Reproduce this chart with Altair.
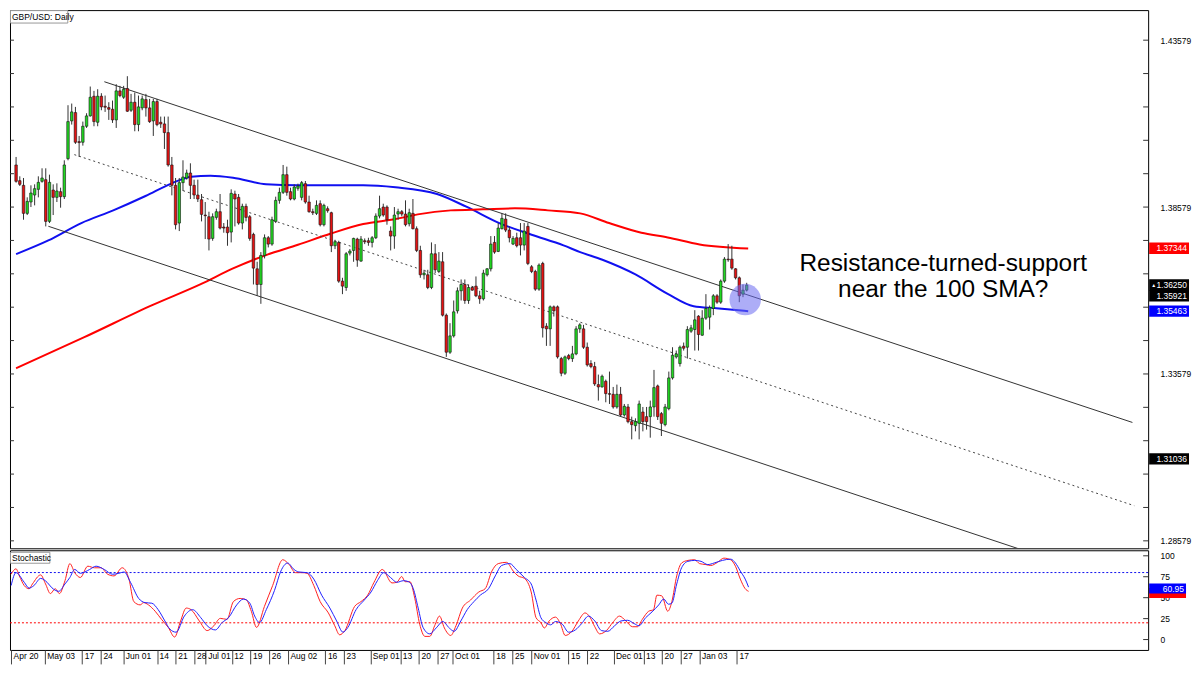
import json
import altair as alt
import pandas as pd

# ---------------- data ----------------
opens = [1.3984,1.3937,1.3923,1.3839,1.3873,1.3894,1.3911,1.3935,1.3940,1.3815,
         1.3909,1.3887,1.3904,1.3889,1.4003,1.4116,1.4141,1.4054,1.4052,1.4100,
         1.4131,1.4190,1.4112,1.4190,1.4160,1.4156,1.4151,1.4119,1.4206,1.4187,
         1.4213,1.4148,1.4172,1.4105,1.4155,1.4180,1.4155,1.4116,1.4174,1.4112,
         1.4107,1.4081,1.3984,1.3923,1.3810,1.3931,1.3945,1.3960,1.3923,1.3894,
         1.3880,1.3834,1.3829,1.3764,1.3827,1.3844,1.3798,1.3798,1.3783,1.3897,
         1.3887,1.3810,1.3860,1.3829,1.3776,1.3673,1.3626,1.3713,1.3766,1.3747,
         1.3815,1.3878,1.3902,1.3955,1.3904,1.3882,1.3914,1.3887,1.3928,1.3873,
         1.3844,1.3839,1.3868,1.3805,1.3853,1.3841,1.3742,1.3752,1.3636,1.3617,
         1.3720,1.3728,1.3762,1.3696,1.3757,1.3757,1.3752,1.3766,1.3831,1.3858,
         1.3858,1.3786,1.3771,1.3837,1.3844,1.3837,1.3808,1.3839,1.3793,1.3728,
         1.3655,1.3655,1.3617,1.3718,1.3665,1.3694,1.3534,1.3423,1.3472,1.3547,
         1.3607,1.3626,1.3578,1.3617,1.3621,1.3592,1.3583,1.3655,1.3673,1.3752,
         1.3725,1.3793,1.3822,1.3789,1.3747,1.3766,1.3766,1.3744,1.3800,1.3679,
         1.3665,1.3612,1.3689,1.3501,1.3493,1.3559,1.3559,1.3404,1.3360,1.3413,
         1.3404,1.3418,1.3493,1.3493,1.3438,1.3389,1.3380,1.3326,1.3319,1.3336,
         1.3299,1.3297,1.3259,1.3297,1.3235,1.3259,1.3215,1.3203,1.3210,1.3244,
         1.3230,1.3230,1.3259,1.3322,1.3239,1.3206,1.3254,1.3346,1.3409,1.3389,
         1.3441,1.3438,1.3486,1.3491,1.3531,1.3474,1.3525,1.3528,1.3554,1.3592,
         1.3573,1.3636,1.3702,1.3702,1.3673,1.3646,1.3597,1.3609]
highs = [1.4008,1.3950,1.3945,1.3887,1.3923,1.3926,1.3950,1.3974,1.3974,1.3955,
         1.3926,1.3929,1.3916,1.3998,1.4163,1.4168,1.4158,1.4071,1.4114,1.4139,
         1.4219,1.4206,1.4211,1.4199,1.4192,1.4172,1.4177,1.4226,1.4221,1.4221,
         1.4250,1.4197,1.4201,1.4192,1.4192,1.4197,1.4182,1.4182,1.4182,1.4129,
         1.4129,1.4129,1.4008,1.3945,1.3945,1.3998,1.3970,1.3989,1.3940,1.3940,
         1.3897,1.3873,1.3844,1.3839,1.3853,1.3897,1.3810,1.3820,1.3911,1.3907,
         1.3897,1.3868,1.3868,1.3834,1.3781,1.3694,1.3723,1.3776,1.3771,1.3829,
         1.3889,1.3916,1.3984,1.3979,1.3916,1.3926,1.3928,1.3936,1.3936,1.3892,
         1.3853,1.3878,1.3878,1.3868,1.3860,1.3844,1.3760,1.3757,1.3646,1.3723,
         1.3732,1.3766,1.3766,1.3771,1.3764,1.3766,1.3771,1.3839,1.3892,1.3868,
         1.3863,1.3800,1.3858,1.3853,1.3849,1.3878,1.3853,1.3882,1.3800,1.3742,
         1.3670,1.3670,1.3752,1.3747,1.3723,1.3723,1.3539,1.3510,1.3578,1.3617,
         1.3641,1.3641,1.3626,1.3621,1.3650,1.3607,1.3670,1.3675,1.3771,1.3771,
         1.3810,1.3839,1.3839,1.3800,1.3771,1.3781,1.3810,1.3810,1.3810,1.3684,
         1.3670,1.3689,1.3694,1.3510,1.3563,1.3563,1.3563,1.3409,1.3413,1.3418,
         1.3442,1.3501,1.3510,1.3505,1.3452,1.3399,1.3394,1.3356,1.3356,1.3341,
         1.3365,1.3319,1.3326,1.3319,1.3268,1.3268,1.3230,1.3225,1.3278,1.3259,
         1.3259,1.3278,1.3370,1.3326,1.3244,1.3268,1.3365,1.3438,1.3428,1.3443,
         1.3452,1.3501,1.3505,1.3549,1.3534,1.3549,1.3597,1.3563,1.3597,1.3597,
         1.3641,1.3708,1.3747,1.3742,1.3675,1.3650,1.3626,1.3631]
lows = [1.3931,1.3921,1.3820,1.3834,1.3858,1.3863,1.3887,1.3931,1.3800,1.3810,
        1.3834,1.3873,1.3856,1.3882,1.3998,1.4105,1.4047,1.4008,1.4042,1.4095,
        1.4129,1.4100,1.4100,1.4148,1.4143,1.4119,1.4110,1.4095,1.4187,1.4182,
        1.4143,1.4143,1.4085,1.4085,1.4148,1.4129,1.4110,1.4071,1.4100,1.4095,
        1.4032,1.3979,1.3893,1.3791,1.3786,1.3906,1.3940,1.3882,1.3882,1.3873,
        1.3815,1.3762,1.3728,1.3757,1.3820,1.3791,1.3781,1.3742,1.3752,1.3800,
        1.3805,1.3791,1.3815,1.3757,1.3626,1.3592,1.3568,1.3704,1.3737,1.3742,
        1.3810,1.3868,1.3897,1.3892,1.3878,1.3878,1.3907,1.3878,1.3868,1.3841,
        1.3834,1.3834,1.3800,1.3800,1.3841,1.3723,1.3732,1.3631,1.3597,1.3607,
        1.3713,1.3694,1.3679,1.3694,1.3747,1.3742,1.3737,1.3762,1.3824,1.3829,
        1.3805,1.3728,1.3733,1.3820,1.3830,1.3800,1.3800,1.3791,1.3723,1.3646,
        1.3641,1.3612,1.3612,1.3660,1.3660,1.3530,1.3409,1.3418,1.3467,1.3539,
        1.3578,1.3568,1.3568,1.3607,1.3588,1.3568,1.3578,1.3650,1.3665,1.3718,
        1.3723,1.3791,1.3783,1.3752,1.3744,1.3737,1.3713,1.3728,1.3684,1.3660,
        1.3607,1.3607,1.3467,1.3442,1.3442,1.3530,1.3404,1.3351,1.3355,1.3399,
        1.3394,1.3414,1.3481,1.3433,1.3380,1.3375,1.3322,1.3278,1.3317,1.3273,
        1.3268,1.3254,1.3254,1.3230,1.3230,1.3210,1.3162,1.3186,1.3162,1.3186,
        1.3191,1.3167,1.3230,1.3220,1.3172,1.3201,1.3249,1.3341,1.3404,1.3380,
        1.3428,1.3404,1.3481,1.3428,1.3428,1.3472,1.3520,1.3491,1.3534,1.3568,
        1.3568,1.3631,1.3694,1.3670,1.3641,1.3573,1.3588,1.3605]
closes = [1.3935,1.3926,1.3839,1.3875,1.3900,1.3913,1.3932,1.3945,1.3815,1.3932,
          1.3887,1.3906,1.3889,1.3984,1.4114,1.4143,1.4052,1.4051,1.4100,1.4131,
          1.4187,1.4114,1.4190,1.4158,1.4157,1.4151,1.4119,1.4206,1.4192,1.4211,
          1.4145,1.4172,1.4105,1.4158,1.4182,1.4155,1.4114,1.4174,1.4105,1.4107,
          1.4081,1.3984,1.3923,1.3805,1.3931,1.3948,1.3960,1.3923,1.3894,1.3882,
          1.3836,1.3832,1.3762,1.3829,1.3844,1.3795,1.3795,1.3781,1.3899,1.3882,
          1.3810,1.3860,1.3827,1.3764,1.3675,1.3626,1.3713,1.3766,1.3747,1.3820,
          1.3878,1.3902,1.3955,1.3902,1.3882,1.3918,1.3921,1.3931,1.3873,1.3844,
          1.3841,1.3863,1.3805,1.3863,1.3847,1.3742,1.3754,1.3636,1.3621,1.3718,
          1.3726,1.3764,1.3699,1.3762,1.3754,1.3752,1.3766,1.3831,1.3853,1.3834,
          1.3820,1.3771,1.3834,1.3844,1.3837,1.3805,1.3841,1.3793,1.3728,1.3655,
          1.3660,1.3617,1.3718,1.3670,1.3696,1.3534,1.3423,1.3472,1.3544,1.3607,
          1.3626,1.3578,1.3617,1.3609,1.3592,1.3583,1.3660,1.3673,1.3747,1.3723,
          1.3795,1.3824,1.3789,1.3766,1.3764,1.3742,1.3744,1.3786,1.3689,1.3665,
          1.3612,1.3684,1.3496,1.3493,1.3559,1.3547,1.3409,1.3360,1.3409,1.3404,
          1.3418,1.3493,1.3505,1.3438,1.3385,1.3380,1.3328,1.3319,1.3351,1.3299,
          1.3297,1.3259,1.3297,1.3235,1.3261,1.3215,1.3206,1.3215,1.3268,1.3215,
          1.3215,1.3259,1.3317,1.3230,1.3210,1.3259,1.3346,1.3414,1.3418,1.3438,
          1.3435,1.3491,1.3496,1.3520,1.3476,1.3525,1.3554,1.3557,1.3592,1.3573,
          1.3636,1.3702,1.3700,1.3675,1.3646,1.3592,1.3609,1.3624]

# moving averages, read at sample bars
sma100_idx = [0, 8.7, 17.6, 26.2, 34.9, 42.0, 47.2, 52.4, 58.5, 67.4, 76.0, 84.7, 93.6,
              102.3, 113.5, 121.4, 130.3, 139.0, 147.6, 152.1, 158.1, 167.0, 175.7,
              182.7, 188.8, 197.4]
sma100_val = [1.3717, 1.3758, 1.3810, 1.3848, 1.3891, 1.3929, 1.3949, 1.3952, 1.3946,
              1.3926, 1.3923, 1.3923, 1.3923, 1.3917, 1.3897, 1.3859, 1.3810, 1.3775,
              1.3743, 1.3723, 1.3700, 1.3656, 1.3598, 1.3561, 1.3555, 1.3546]
sma200_idx = [0, 18.4, 36.7, 49.8, 58.5, 67.4, 76.0, 84.7, 93.6, 102.3, 108.3, 117.2,
              125.9, 134.5, 143.4, 152.1, 159.9, 168.6, 175.7, 184.3, 197.4]
sma200_val = [1.3375, 1.3468, 1.3564, 1.3627, 1.3674, 1.3714, 1.3745, 1.3778, 1.3807,
              1.3822, 1.3836, 1.3848, 1.3851, 1.3854, 1.3848, 1.3839, 1.3810, 1.3781,
              1.3767, 1.3746, 1.3734]

# channel (bar index, price) end points
chan_upper_idx = [23.8, 301.0]
chan_upper_val = [1.42334, 1.32126]
chan_mid_idx = [15.7, 301.5]
chan_mid_val = [1.40150, 1.29632]
chan_lower_idx = [8.7, 303.9]
chan_lower_val = [1.38004, 1.27101]

# stochastic (%K red, %D blue)
stoch_k_idx = [0, 1.3, 2.2, 3.5, 4.8, 5.7, 7.9, 9.2, 10.5, 11.8, 12.9, 14.4, 15.7, 17.0,
               18.5, 20.5, 22.3, 24.0, 25.8, 27.5, 29.7, 31.5, 32.8, 34.5, 35.4, 36.7,
               38.5, 40.2, 42.0, 43.7, 45.3, 46.8, 48.1, 50.3, 52.4, 54.2, 55.9, 57.7,
               59.4, 61.2, 62.9, 64.2, 65.6, 67.7, 69.9, 72.6, 74.3, 76.0, 77.8, 79.1,
               80.9, 82.6, 84.8, 86.5, 87.8, 89.2, 91.8, 93.5, 95.3, 97.0, 99.2, 101.8,
               103.1, 104.4, 105.3, 106.6, 107.9, 109.2, 110.6, 111.9, 113.2, 114.5,
               115.8, 117.5, 118.9, 120.6, 122.8, 125.0, 126.7, 128.5, 130.2, 132.4,
               134.2, 135.5, 137.2, 139.0, 140.3, 141.6, 142.5, 143.8, 145.5, 146.8,
               148.1, 149.9, 151.6, 153.4, 154.7, 156.0, 157.3, 159.1, 160.8, 162.6,
               164.3, 166.1, 167.4, 168.7, 170.4, 171.7, 172.6, 173.9, 175.5, 176.6,
               177.9, 179.2, 180.9, 182.7, 184.0, 185.7, 187.0, 188.8, 190.5, 192.3,
               193.6, 194.9, 196.2, 197.1]
stoch_k_val = [78.0, 84.5, 76.0, 64.5, 60.7, 66.4, 77.2, 66.4, 54.9, 60.7, 54.9, 70.3,
               90.7, 79.9, 74.1, 87.6, 85.7, 85.7, 78.0, 76.0, 85.7, 72.2, 45.3, 41.4,
               44.1, 41.4, 33.8, 24.1, 14.5, 3.0, 22.2, 37.6, 35.7, 22.2, 10.7, 16.5,
               25.3, 24.1, 45.3, 49.1, 47.2, 33.8, 14.5, 39.5, 64.5, 95.3, 89.5, 79.9,
               79.9, 79.1, 64.5, 45.3, 31.8, 16.5, 5.7, 10.7, 39.5, 45.3, 53.0, 68.4,
               83.7, 67.6, 68.4, 75.3, 69.1, 69.1, 49.1, 18.4, 3.8, 3.8, 16.5, 28.0,
               13.8, 4.9, 16.5, 37.6, 47.2, 56.8, 60.7, 81.8, 90.7, 92.2, 81.8, 76.0,
               73.0, 56.8, 26.1, 20.3, 13.8, 22.2, 26.8, 19.1, 4.9, 9.9, 22.2, 31.8,
               26.8, 15.3, 6.8, 10.7, 20.3, 28.0, 22.2, 15.3, 15.3, 24.1, 33.8, 35.7,
               53.0, 52.2, 33.8, 45.3, 76.0, 91.4, 94.5, 95.3, 90.7, 89.5, 88.4, 92.2,
               97.2, 95.3, 87.6, 72.2, 60.7, 57.6]
stoch_d_idx = [0, 1.3, 3.5, 4.8, 6.1, 7.9, 9.6, 10.9, 12.7, 14.4, 15.7, 17.0, 18.5, 21.0,
               22.7, 24.9, 27.1, 28.8, 30.2, 31.9, 34.1, 35.8, 37.6, 39.3, 41.1, 42.4,
               44.1, 46.3, 48.5, 50.7, 52.4, 54.6, 56.4, 58.1, 60.3, 62.1, 63.8, 65.1,
               66.4, 68.2, 70.4, 72.1, 73.9, 75.6, 76.9, 79.1, 80.9, 83.0, 85.2, 87.0,
               88.7, 90.0, 92.2, 94.4, 96.2, 97.9, 99.6, 101.4, 103.1, 104.9, 106.2,
               107.5, 108.8, 110.1, 111.9, 113.6, 115.4, 117.1, 118.4, 120.2, 121.9,
               123.7, 125.4, 127.6, 129.4, 131.1, 133.3, 135.0, 137.2, 139.0, 140.3,
               141.6, 142.9, 144.2, 145.5, 147.3, 149.0, 150.8, 152.5, 154.3, 156.0,
               157.8, 159.5, 161.3, 163.0, 164.8, 166.5, 167.8, 169.6, 171.3, 173.1,
               174.4, 175.7, 176.6, 177.9, 179.2, 180.9, 182.7, 184.4, 186.2, 187.9,
               190.1, 192.3, 193.6, 194.9, 196.2, 197.1]
stoch_d_val = [64.5, 79.9, 68.4, 61.4, 64.5, 73.0, 68.4, 61.8, 57.6, 66.4, 74.1, 83.7,
               79.1, 83.7, 87.6, 83.7, 78.0, 79.1, 80.7, 68.4, 49.1, 44.1, 43.4, 35.7,
               22.2, 12.6, 8.8, 28.0, 35.7, 26.1, 16.5, 11.5, 20.3, 26.1, 41.4, 48.4,
               43.4, 28.0, 20.3, 35.7, 58.7, 81.8, 91.4, 83.7, 80.7, 79.9, 72.2, 53.0,
               37.6, 22.2, 8.8, 14.5, 35.7, 47.2, 56.8, 70.3, 79.9, 74.1, 68.4, 70.3,
               69.1, 60.7, 37.6, 14.5, 6.8, 13.8, 21.5, 13.8, 9.9, 22.2, 35.7, 45.3,
               53.0, 60.7, 76.0, 88.4, 90.7, 83.7, 74.1, 66.4, 47.2, 26.1, 20.3, 17.6,
               21.5, 18.4, 8.8, 11.5, 19.1, 28.0, 22.2, 10.7, 9.9, 16.5, 22.2, 23.0,
               19.1, 16.5, 26.1, 33.0, 41.4, 48.4, 42.2, 43.4, 66.4, 85.7, 93.4, 94.5,
               93.4, 89.5, 91.4, 94.5, 96.0, 91.4, 81.8, 72.2, 62.6]
stoch_levels = [80, 20]

# axis text
tick_idx = [0, 9, 19, 24, 30, 39, 44, 49, 52, 59, 64, 69, 74, 84, 89, 96, 104, 109, 114,
            118, 129, 134, 139, 149, 154, 161, 169, 174, 179, 184, 194]
tick_lbl = ["Apr 20", "May 03", "17", "24", "Jun 01", "14", "21", "28", "Jul 01", "12",
            "19", "26", "Aug 02", "16", "23", "Sep 01", "13", "20", "27", "Oct 01", "18",
            "25", "Nov 01", "15", "22", "Dec 01", "13", "20", "27", "Jan 03", "17"]
price_labels = [1.28579, 1.33579, 1.38579, 1.43579]
price_minor = [1.28579, 1.29579, 1.30579, 1.31579, 1.32579, 1.33579, 1.34579, 1.35579,
               1.36579, 1.37579, 1.38579, 1.39579, 1.40579, 1.41579, 1.42579, 1.43579]
stoch_labels = [0, 25, 50, 75, 100]

price_tags = [1.37344, 1.36250, 1.35921, 1.35463, 1.31036]
price_tag_kind = ["sma200", "price", "price", "sma100", "level"]
stoch_k_tag = [55.5]
stoch_d_tag = [60.95]

note_lines = ["Resistance-turned-support", "near the 100 SMA?"]
note_idx = [250.0, 250.0]
note_val = [1.3667, 1.3589]
circle_idx = [196.6]
circle_val = [1.35809]

# ---------------- layout ----------------
W = 1142
H1 = 540
H2 = 100
FONT = "Liberation Sans"
X_DOMAIN = [-0.3, 303.9]
P_DOMAIN = [1.28356, 1.4448]
S_DOMAIN = [-12.4, 106.6]
GREEN = "#22d822"
RED = "#e51212"
TAG_COLORS = {"sma200": "#ff0000", "price": "#000000", "sma100": "#0000ff",
              "level": "#000000"}

xs = alt.Scale(domain=X_DOMAIN, nice=False, zero=False)
ps = alt.Scale(domain=P_DOMAIN, nice=False, zero=False)
ss = alt.Scale(domain=S_DOMAIN, nice=False, zero=False)

price_axis = alt.Axis(orient="right", values=price_labels, format=".5f", ticks=False,
                      tickSize=0, domain=False, grid=False, labelPadding=12,
                      labelFont=FONT, labelFontSize=8.5, labelColor="#000", title=None)
xaxis_main = alt.Axis(values=tick_idx, labels=False, ticks=False, domain=False,
                      grid=False, title=None)


def PX(field):
    return alt.X(field, scale=xs, axis=None, title=None)


def PY(field):
    return alt.Y(field, scale=ps, axis=price_axis, title=None)


candles = pd.DataFrame({"i": list(range(len(opens))), "o": opens, "h": highs,
                        "l": lows, "c": closes})

wicks = alt.Chart(candles).mark_rule(color="#333", strokeWidth=1).encode(
    x=PX("i:Q"), y=PY("l:Q"), y2="h:Q")
bodies = alt.Chart(candles).mark_bar(size=2.5, stroke="#111", strokeWidth=0.6).encode(
    x=PX("i:Q"), y=PY("o:Q"), y2="c:Q",
    fill=alt.condition("datum.c >= datum.o", alt.value(GREEN), alt.value(RED)))

sma_df = pd.concat([
    pd.DataFrame({"i": sma100_idx, "p": sma100_val, "s": "100"}),
    pd.DataFrame({"i": sma200_idx, "p": sma200_val, "s": "200"})])
smas = alt.Chart(sma_df).mark_line(strokeWidth=2, interpolate="monotone").encode(
    x=PX("i:Q"), y=PY("p:Q"),
    color=alt.Color("s:N", scale=alt.Scale(domain=["100", "200"],
                                           range=["#1010f0", "#ff0000"]), legend=None))

chan_df = pd.concat([
    pd.DataFrame({"i": chan_upper_idx, "p": chan_upper_val, "n": "upper"}),
    pd.DataFrame({"i": chan_lower_idx, "p": chan_lower_val, "n": "lower"})])
chan = alt.Chart(chan_df).mark_line(color="#333", strokeWidth=1, clip=True).encode(
    x=PX("i:Q"), y=PY("p:Q"), detail="n:N")
mid_df = pd.DataFrame({"i": chan_mid_idx, "p": chan_mid_val})
mid = alt.Chart(mid_df).mark_line(color="#444", strokeWidth=1, strokeDash=[2, 3],
                                  clip=True).encode(x=PX("i:Q"), y=PY("p:Q"))

circ = alt.Chart(pd.DataFrame({"i": circle_idx, "p": circle_val})).mark_circle(
    size=1000, color="#6a6af0", opacity=0.55).encode(x=PX("i:Q"), y=PY("p:Q"))

note = alt.Chart(pd.DataFrame({"i": note_idx, "p": note_val, "t": note_lines})).mark_text(
    font=FONT, fontSize=24.5, align="center", baseline="alphabetic", color="#000").encode(
    x=PX("i:Q"), y=PY("p:Q"), text="t:N")

tick_df = pd.DataFrame({"p": price_minor})
lticks = alt.Chart(tick_df).mark_rule(color="#333", strokeWidth=1).encode(
    x=alt.value(0), x2=alt.value(4), y=PY("p:Q"))
rticks = alt.Chart(tick_df).mark_rule(color="#333", strokeWidth=1).encode(
    x=alt.value(W - 5), x2=alt.value(W), y=PY("p:Q"))

tag_df = pd.DataFrame({"p": price_tags, "k": price_tag_kind,
                       "lbl": [f"{v:.5f}" for v in price_tags]})
tag_df["col"] = tag_df["k"].map(TAG_COLORS)
tag_box = alt.Chart(tag_df).transform_calculate(
    top="datum.p + 0.0017", bot="datum.p - 0.0017").mark_rect().encode(
    x=alt.value(W + 1), x2=alt.value(W + 41), y=PY("top:Q"), y2="bot:Q",
    fill=alt.Fill("col:N", scale=None))
tag_txt = alt.Chart(tag_df).mark_text(font=FONT, fontSize=8.5, align="right",
                                      baseline="middle", color="white").encode(
    x=alt.value(W + 39), y=PY("p:Q"), text="lbl:N")
arrow = alt.Chart(pd.DataFrame({"p": [price_tags[1]]})).mark_text(
    text="\u25b2", fontSize=5, color="white", align="left", baseline="middle").encode(
    x=alt.value(W + 3), y=PY("p:Q"))

title_df = pd.DataFrame({"t": ["GBP/USD: Daily"]})
title_box = alt.Chart(title_df).mark_rect(fill="white", stroke="#999", strokeWidth=1).encode(
    x=alt.value(0.5), x2=alt.value(58), y=alt.value(0.5), y2=alt.value(13))
title_txt = alt.Chart(title_df).mark_text(font=FONT, fontSize=8.5, align="left",
                                          baseline="middle", color="#000").encode(
    x=alt.value(2), y=alt.value(7), text="t:N")

main = alt.layer(lticks, rticks, smas, chan, mid, wicks, bodies, circ, note,
                 title_box, title_txt, tag_box, tag_txt, arrow).properties(
    width=W, height=H1)

# ---------------- stochastic panel ----------------
xaxis = alt.Axis(values=tick_idx,
                 labelExpr=f"{json.dumps(tick_lbl)}[indexof({json.dumps(tick_idx)}, datum.value)]",
                 tickSize=14, tickColor="#444", tickWidth=1, domain=False, grid=False,
                 labelAlign="left", labelBaseline="top", labelPadding=-12, labelOffset=2,
                 labelFont=FONT, labelFontSize=8.5, labelColor="#000",
                 labelOverlap=False, labelFlush=False, title=None)
stoch_axis = alt.Axis(orient="right", values=stoch_labels, ticks=False, tickSize=0,
                      domain=False, grid=False, labelPadding=12, labelFont=FONT,
                      labelFontSize=8.5, labelColor="#000", title=None)


def SX(field):
    return alt.X(field, scale=xs, axis=xaxis, title=None)


def SY(field):
    return alt.Y(field, scale=ss, axis=stoch_axis, title=None)


lvl_df = pd.DataFrame({"v": stoch_levels, "n": ["hi", "lo"]})
levels = alt.Chart(lvl_df).mark_rule(strokeWidth=1, strokeDash=[2, 2]).encode(
    y=SY("v:Q"),
    color=alt.Color("n:N", scale=alt.Scale(domain=["hi", "lo"],
                                           range=["#3030ff", "#ff3030"]), legend=None))

k_df = pd.DataFrame({"i": stoch_k_idx, "v": stoch_k_val})
d_df = pd.DataFrame({"i": stoch_d_idx, "v": stoch_d_val})
k_line = alt.Chart(k_df).mark_line(color="#ff2020", strokeWidth=1,
                                   interpolate="monotone").encode(x=SX("i:Q"), y=SY("v:Q"))
d_line = alt.Chart(d_df).mark_line(color="#2020ff", strokeWidth=1,
                                   interpolate="monotone").encode(x=SX("i:Q"), y=SY("v:Q"))

sticks = alt.Chart(pd.DataFrame({"v": stoch_labels})).mark_rule(color="#333").encode(
    x=alt.value(W - 5), x2=alt.value(W), y=SY("v:Q"))

k_box = alt.Chart(pd.DataFrame({"v": stoch_k_tag})).transform_calculate(
    top="datum.v + 6", bot="datum.v - 6").mark_rect(color="#ff0000").encode(
    x=alt.value(W + 1), x2=alt.value(W + 38), y=SY("top:Q"), y2="bot:Q")
d_box = alt.Chart(pd.DataFrame({"v": stoch_d_tag})).transform_calculate(
    top="datum.v + 6", bot="datum.v - 6").mark_rect(color="#0000ff").encode(
    x=alt.value(W + 1), x2=alt.value(W + 38), y=SY("top:Q"), y2="bot:Q")
d_txt = alt.Chart(pd.DataFrame({"v": stoch_d_tag,
                                "lbl": [f"{v:.2f}" for v in stoch_d_tag]})).mark_text(
    font=FONT, fontSize=8.5, align="right", baseline="middle", color="white").encode(
    x=alt.value(W + 36), y=SY("v:Q"), text="lbl:N")

st_df = pd.DataFrame({"t": ["Stochastic"]})
st_box = alt.Chart(st_df).mark_rect(fill="white", stroke="#999", strokeWidth=1).encode(
    x=alt.value(0.5), x2=alt.value(40), y=alt.value(2), y2=alt.value(13))
st_txt = alt.Chart(st_df).mark_text(font=FONT, fontSize=8.5, align="left",
                                    baseline="middle", color="#000").encode(
    x=alt.value(2), y=alt.value(8), text="t:N")

stoch = alt.layer(levels, sticks, k_line, d_line, st_box, st_txt,
                  k_box, d_box, d_txt).properties(width=W, height=H2)

chart = alt.vconcat(main, stoch, spacing=0).properties(
    padding=0, background="white").configure_view(
    stroke="#000", strokeWidth=1).configure_concat(spacing=0)

chart.save("out.html", embed_options={"renderer": "svg", "actions": False})
